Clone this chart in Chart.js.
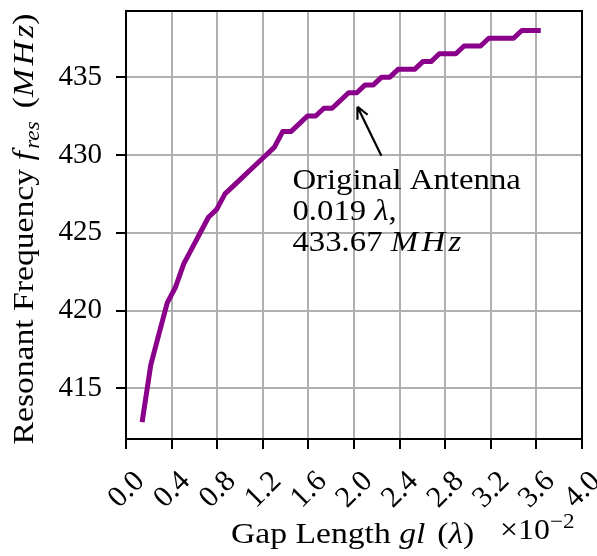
<!DOCTYPE html>
<html>
<head>
<meta charset="utf-8">
<script src="https://cdn.jsdelivr.net/npm/chart.js@4.4.1/dist/chart.umd.min.js"></script>
<style>
  html, body { margin: 0; padding: 0; background: #fff; }
  #wrap { width: 597px; height: 556px; }
</style>
</head>
<body>
<div id="wrap"><canvas id="freqChart"></canvas></div>
<script>
// gap length gl in units of 1e-2 wavelength (1 mm .. 25 mm, 0.5 mm steps)
const gapLength = [
  0.1447, 0.2170, 0.2893, 0.3616, 0.4340, 0.5063, 0.5786, 0.6510, 0.7233, 0.7956,
  0.8679, 0.9403, 1.0126, 1.0849, 1.1573, 1.2296, 1.3019, 1.3743, 1.4466, 1.5189,
  1.5912, 1.6636, 1.7359, 1.8082, 1.8806, 1.9529, 2.0252, 2.0975, 2.1699, 2.2422,
  2.3145, 2.3869, 2.4592, 2.5315, 2.6038, 2.6762, 2.7485, 2.8208, 2.8932, 2.9655,
  3.0378, 3.1101, 3.1825, 3.2548, 3.3271, 3.3995, 3.4718, 3.5441, 3.6164
];
// resonant frequency in MHz
const resFreq = [
  413.0, 416.5, 418.5, 420.5, 421.5, 423.0, 424.0, 425.0, 426.0, 426.5,
  427.5, 428.0, 428.5, 429.0, 429.5, 430.0, 430.5, 431.5, 431.5, 432.0,
  432.5, 432.5, 433.0, 433.0, 433.5, 434.0, 434.0, 434.5, 434.5, 435.0,
  435.0, 435.5, 435.5, 435.5, 436.0, 436.0, 436.5, 436.5, 436.5, 437.0,
  437.0, 437.0, 437.5, 437.5, 437.5, 437.5, 438.0, 438.0, 438.0
];
const xTicks = [0.0, 0.4, 0.8, 1.2, 1.6, 2.0, 2.4, 2.8, 3.2, 3.6, 4.0];
const yTicks = [415, 420, 425, 430, 435];

// annotation (data coords)
const noteTip = [2.03, 433.1];
const noteTail = [2.24, 429.95];
const noteText = [1.46, 427.82];

const SERIF = '"Liberation Serif", "Times New Roman", serif';
const FS = 29;
const STRETCH = 1.13; // Times is narrower than Computer Modern

function runsWidth(ctx, runs, k) {
  let w = 0;
  runs.forEach(r => { ctx.font = r.font; w += ctx.measureText(r.t).width + (r.gap || 0); });
  return w * (k || STRETCH);
}
function drawRuns(ctx, runs, x, y, k) {
  ctx.save();
  ctx.translate(x, y);
  ctx.scale(k || STRETCH, 1);
  let cx = 0;
  runs.forEach(r => {
    ctx.font = r.font;
    ctx.fillText(r.t, cx, r.dy || 0);
    cx += ctx.measureText(r.t).width + (r.gap || 0);
  });
  ctx.restore();
}

const rm = FS + 'px ' + SERIF;
const it = 'italic ' + FS + 'px ' + SERIF;
const small = 'italic 20px ' + SERIF;
// math-italic "MHz" with a little spacing between letters
const mhz = [
  { t: 'M', font: it, gap: 3 },
  { t: 'H', font: it, gap: 3 },
  { t: 'z', font: it }
];

const overlay = {
  id: 'overlay',
  afterDraw(chart) {
    const ctx = chart.ctx;
    const a = chart.chartArea;
    const xs = chart.scales.x, ys = chart.scales.y;
    ctx.save();
    ctx.fillStyle = '#000';
    ctx.strokeStyle = '#000';
    ctx.textBaseline = 'alphabetic';
    ctx.textAlign = 'left';

    // top and right spines
    ctx.lineWidth = 2;
    ctx.beginPath();
    ctx.moveTo(a.left, a.top); ctx.lineTo(a.right, a.top); ctx.lineTo(a.right, a.bottom);
    ctx.stroke();

    // y axis title
    const yRuns = [
      { t: 'Resonant Frequency ', font: rm },
      { t: 'f', font: it, gap: 2 },
      { t: 'res', font: small, dy: 6, gap: 4 },
      { t: ' (', font: rm }
    ].concat(mhz, [{ t: ')', font: rm }]);
    ctx.save();
    ctx.translate(33, 229);
    ctx.rotate(-Math.PI / 2);
    drawRuns(ctx, yRuns, -runsWidth(ctx, yRuns, 1.16) / 2, 0, 1.16);
    ctx.restore();

    // x axis title
    const xRuns = [
      { t: 'Gap Length ', font: rm },
      { t: 'gl', font: it, gap: 3 },
      { t: ' (', font: rm },
      { t: '\u03bb', font: it },
      { t: ')', font: rm }
    ];
    drawRuns(ctx, xRuns, 231, 543, 1.16);

    // offset text
    const offRuns = [
      { t: '\u00d710', font: rm },
      { t: '\u22122', font: '21px ' + SERIF, dy: -11 }
    ];
    drawRuns(ctx, offRuns, 500, 539, 1.1);

    // annotation arrow
    const tx = xs.getPixelForValue(noteTip[0]), ty = ys.getPixelForValue(noteTip[1]);
    const sx = xs.getPixelForValue(noteTail[0]), sy = ys.getPixelForValue(noteTail[1]);
    const ang = Math.atan2(ty - sy, tx - sx);
    ctx.lineWidth = 2.2;
    ctx.beginPath();
    ctx.moveTo(sx, sy); ctx.lineTo(tx, ty);
    [0.45, -0.45].forEach(d => {
      ctx.moveTo(tx, ty);
      ctx.lineTo(tx - 13 * Math.cos(ang + d), ty - 13 * Math.sin(ang + d));
    });
    ctx.stroke();

    // annotation text
    const nx = xs.getPixelForValue(noteText[0]), ny = ys.getPixelForValue(noteText[1]);
    drawRuns(ctx, [{ t: 'Original Antenna', font: rm }], nx, ny);
    drawRuns(ctx, [{ t: '0.019 ', font: rm }, { t: '\u03bb', font: it }, { t: ',', font: rm }], nx, ny + 31);
    drawRuns(ctx, [{ t: '433.67 ', font: rm }].concat(mhz), nx, ny + 62);

    ctx.restore();
  }
};

const ctxMain = document.getElementById('freqChart').getContext('2d');
new Chart(ctxMain, {
  type: 'line',
  data: {
    datasets: [{
      data: gapLength.map((g, i) => ({ x: g, y: resFreq[i] })),
      borderColor: '#8b008b',
      borderWidth: 5,
      borderCapStyle: 'square',
      borderJoinStyle: 'round',
      pointRadius: 0,
      tension: 0,
      fill: false
    }]
  },
  options: {
    responsive: true,
    maintainAspectRatio: false,
    animation: false,
    layout: { padding: { top: 11, right: 15, left: 0, bottom: 0 } },
    plugins: { legend: { display: false }, tooltip: { enabled: false } },
    scales: {
      x: {
        type: 'linear',
        min: 0, max: 4,
        afterBuildTicks: s => { s.ticks = xTicks.map(v => ({ value: v })); },
        afterFit: s => { s.height = 117; s.paddingLeft = 0; s.paddingRight = 0; },
        ticks: {
          callback: v => v.toFixed(1),
          autoSkip: false,
          minRotation: 45, maxRotation: 45,
          labelOffset: 14,
          padding: 15,
          color: '#000',
          font: { family: SERIF, size: 30 }
        },
        grid: { color: '#b0b0b0', lineWidth: 2, tickColor: '#000', tickLength: 10, tickWidth: 2 },
        border: { color: '#000', width: 2 }
      },
      y: {
        min: 411.75, max: 439.25,
        afterBuildTicks: s => { s.ticks = yTicks.map(v => ({ value: v })); },
        afterFit: s => { s.width = 126; s.paddingTop = 0; s.paddingBottom = 0; },
        ticks: {
          callback: v => String(v),
          padding: 14,
          color: '#000',
          font: { family: SERIF, size: FS }
        },
        grid: { color: '#b0b0b0', lineWidth: 2, tickColor: '#000', tickLength: 10, tickWidth: 2 },
        border: { color: '#000', width: 2 }
      }
    }
  },
  plugins: [overlay]
});
</script>
</body>
</html>
